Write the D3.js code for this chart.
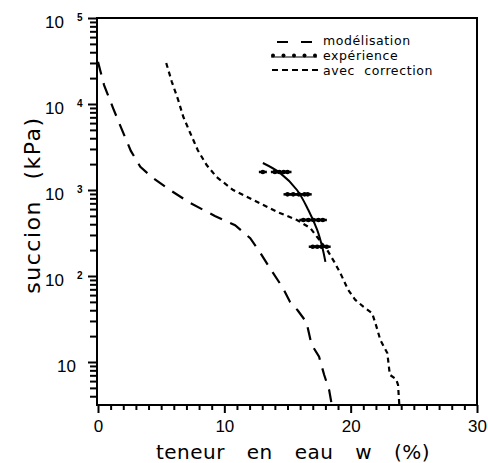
<!DOCTYPE html>
<html>
<head>
<meta charset="utf-8">
<script src="https://cdn.jsdelivr.net/npm/d3@7"></script>
<style>
body { margin: 0; background: #fff; }
svg { display: block; }
text { font-family: "DejaVu Sans", sans-serif; fill: #000; }
.num { font-family: "Liberation Sans", Arial, sans-serif; }
</style>
</head>
<body>
<svg id="chart"></svg>
<script>
// modélisation (long dashes)
var modelW = [0, 0.48, 1.2, 1.9, 2.6, 3.35, 4.35, 5.7, 7.3, 9.25, 10.85, 12.05, 12.85, 13.6, 14.65, 15.2, 15.8, 16.5, 16.9, 17.5, 17.9, 18.3, 18.5];
var modelS = [30900, 16600, 8900, 5000, 2850, 1860, 1380, 1000, 705, 500, 390, 275, 186, 124, 72, 50, 40, 29, 16, 11.5, 7.1, 4.7, 3.2];

// avec correction (short dashes)
var corrW = [5.4, 5.85, 6.35, 6.75, 7.3, 7.9, 8.6, 9.4, 10.7, 12.3, 14.2, 15.75, 16.8, 17.35, 18.15, 18.75, 19.25, 19.8, 20.35, 21.0, 21.7, 22.0, 22.35, 22.9, 23.1, 23.6, 23.75, 23.85];
var corrS = [30000, 18000, 11100, 7100, 4600, 2900, 1950, 1410, 1000, 765, 555, 448, 361, 284, 200, 142, 103, 69, 53, 44, 37, 27, 18, 12.7, 7.1, 6.3, 5.4, 3.2];

// expérience : courbe lissée
var expLineW = [13.05, 14.4, 15.75, 16.65, 17.35, 17.75, 18.0];
var expLineS = [2060, 1580, 1000, 585, 343, 217, 146];

// expérience : points mesurés
var expPtW = [13.05, 14.0, 14.35, 14.7, 15.0, 15.0, 15.45, 15.9, 16.35, 16.6, 16.25, 16.65, 17.05, 17.45, 17.8, 17.0, 17.35, 17.7, 18.1];
var expPtS = [1620, 1620, 1620, 1620, 1620, 890, 890, 890, 890, 890, 448, 448, 448, 448, 448, 219, 219, 219, 219];

// axes
var xTicks = [0, 10, 20, 30];
var yDecades = [10, 100, 1000, 10000, 100000];
var yExponents = ["", "2", "3", "4", "5"];

var legendLabels = ["modélisation", "expérience", "avec  correction"];

var width = 488, height = 463;
var svg = d3.select('#chart').attr('width', width).attr('height', height);

var x = d3.scaleLinear().domain([0, 30]).range([98, 477]);
var y = d3.scaleLog().domain([Math.pow(10, 0.5), 1e5]).range([405, 18]);

// frame
svg.append('rect')
    .attr('x', 97).attr('y', y.range()[1])
    .attr('width', x.range()[1] - 97)
    .attr('height', y.range()[0] - y.range()[1])
    .attr('fill', 'none').attr('stroke', '#000').attr('stroke-width', 2);

// y axis minor ticks
var minor = [];
for (var e = 0; e < 5; e++) {
    for (var k = 2; k <= 9; k++) {
        var v = k * Math.pow(10, e);
        if (v >= y.domain()[0] && v <= y.domain()[1]) minor.push(v);
    }
}
var yMinor = svg.append('g').attr('transform', 'translate(97,0)')
    .call(d3.axisLeft(y).tickValues(minor).tickSize(7).tickFormat(''));
var yMajor = svg.append('g').attr('transform', 'translate(97,0)')
    .call(d3.axisLeft(y).tickValues(yDecades).tickSize(9).tickFormat(''));
[yMinor, yMajor].forEach(function(g) {
    g.select('.domain').remove();
    g.selectAll('line').attr('stroke-width', 2);
});

// y tick labels: 10 with exponent
var yLab = svg.append('g');
yDecades.forEach(function(d, i) {
    var ty = y(d) + 9.5;
    if (yExponents[i] === "") {
        yLab.append('text').attr('class', 'num')
            .attr('x', 76).attr('y', ty)
            .attr('text-anchor', 'end').attr('font-size', 17)
            .text('10');
    } else {
        yLab.append('text').attr('class', 'num')
            .attr('x', 64).attr('y', ty)
            .attr('text-anchor', 'end').attr('font-size', 17)
            .text('10');
        yLab.append('text').attr('class', 'num')
            .attr('x', 77).attr('y', ty - 7)
            .attr('font-size', 10).attr('font-weight', 'bold')
            .text(yExponents[i]);
    }
});

// x axis
var xMinorTicks = d3.range(0, 31, 1).filter(function(d) { return d % 10 !== 0; });
var xMinor = svg.append('g').attr('transform', 'translate(0,405)')
    .call(d3.axisBottom(x).tickValues(xMinorTicks).tickSize(5).tickFormat(''));
var xMajor = svg.append('g').attr('transform', 'translate(0,405)')
    .call(d3.axisBottom(x).tickValues(xTicks).tickSize(8).tickPadding(7));
[xMinor, xMajor].forEach(function(g) {
    g.select('.domain').remove();
    g.selectAll('line').attr('stroke-width', 2);
});
xMajor.attr('font-family', null).attr('font-size', null);
xMajor.selectAll('text').attr('class', 'num').attr('font-size', 17).style('fill', '#000');

// axis titles
svg.append('text')
    .attr('transform', 'translate(40,205) rotate(-90)')
    .attr('text-anchor', 'middle')
    .attr('font-size', 22)
    .attr('letter-spacing', 1.5)
    .attr('word-spacing', 12)
    .text('succion (kPa)');

svg.append('text')
    .attr('x', 293).attr('y', 459)
    .attr('text-anchor', 'middle')
    .attr('font-size', 20)
    .attr('letter-spacing', 0.5)
    .attr('word-spacing', 15)
    .text('teneur en eau w (%)');

// curves
var line = d3.line()
    .x(function(d) { return x(d[0]); })
    .y(function(d) { return y(d[1]); });

svg.append('path')
    .datum(d3.zip(modelW, modelS))
    .attr('d', line)
    .attr('fill', 'none').attr('stroke', '#000')
    .attr('stroke-width', 2.2)
    .attr('stroke-dasharray', '13,9');

svg.append('path')
    .datum(d3.zip(corrW, corrS))
    .attr('d', line)
    .attr('fill', 'none').attr('stroke', '#000')
    .attr('stroke-width', 2.2)
    .attr('stroke-dasharray', '5,4');

svg.append('path')
    .datum(d3.zip(expLineW, expLineS))
    .attr('d', line.curve(d3.curveCatmullRom))
    .attr('fill', 'none').attr('stroke', '#000')
    .attr('stroke-width', 2);

// measured points
var pts = svg.append('g').selectAll('g')
    .data(d3.zip(expPtW, expPtS))
    .enter().append('g')
    .attr('transform', function(d) { return 'translate(' + x(d[0]) + ',' + y(d[1]) + ')'; });
pts.append('line').attr('x1', -4).attr('x2', 4)
    .attr('stroke', '#000').attr('stroke-width', 2.5);
pts.append('circle').attr('r', 2.3).attr('fill', '#000');

// legend
var leg = svg.append('g');
var legY = [45, 59.8, 74.6];
leg.selectAll('text')
    .data(legendLabels)
    .enter().append('text')
    .attr('x', 323)
    .attr('y', function(d, i) { return legY[i]; })
    .attr('font-size', 12.5)
    .attr('letter-spacing', 0.6)
    .style('white-space', 'pre')
    .text(function(d) { return d; });

leg.append('line').attr('x1', 277).attr('x2', 313).attr('y1', 42).attr('y2', 42)
    .attr('stroke', '#000').attr('stroke-width', 2).attr('stroke-dasharray', '11,13');
leg.append('line').attr('x1', 271).attr('x2', 317).attr('y1', 57).attr('y2', 57)
    .attr('stroke', '#000').attr('stroke-width', 1.2);
leg.selectAll('circle.key')
    .data(d3.range(5))
    .enter().append('circle')
    .attr('cx', function(d) { return 273 + d * 10.5; })
    .attr('cy', 55.5)
    .attr('r', 2)
    .attr('fill', '#000');
leg.append('line').attr('x1', 272).attr('x2', 318).attr('y1', 70).attr('y2', 70)
    .attr('stroke', '#000').attr('stroke-width', 2).attr('stroke-dasharray', '6,4');
</script>
</body>
</html>
